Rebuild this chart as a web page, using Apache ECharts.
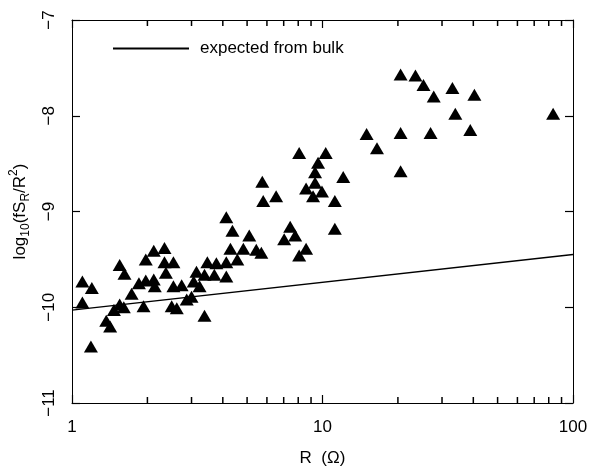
<!DOCTYPE html>
<html>
<head>
<meta charset="utf-8">
<script src="https://cdn.jsdelivr.net/npm/echarts@6/dist/echarts.min.js"></script>
<style>
  html, body { margin: 0; padding: 0; background: #fff; }
  #main { width: 593px; height: 472px; }
</style>
</head>
<body>
<div id="main"></div>
<script>
// measured points: R (ohm) and log10(fS_R/R^2)
var rValues = [
  1.10, 1.20, 1.10, 1.19, 1.37, 1.42, 1.47, 1.55, 1.61, 1.55, 1.62, 1.73, 1.85,
  1.97, 1.97, 2.12, 2.34, 2.12, 2.14, 2.34, 2.54, 2.37, 1.93, 2.50, 2.62, 2.54,
  2.74, 2.87, 3.06, 3.23, 3.00, 3.38, 3.14, 3.38, 3.47,
  3.77, 3.70, 4.13, 4.13, 4.13, 4.37, 5.10, 4.29, 4.83, 5.44, 5.70, 4.57,
  5.80, 5.75, 6.53,
  7.43, 7.78, 7.03, 8.60, 8.07, 11.2, 8.07, 10.3, 9.60, 9.34, 9.34, 8.60, 9.95,
  9.17, 11.2, 12.1,
  15.0, 16.5, 20.5, 20.5, 27.0, 38.9, 33.9, 20.5, 23.5, 25.3, 27.8, 33.0, 40.4, 83.3
];
var logValues = [
  -9.73, -9.80, -9.95, -10.41, -10.14, -10.20, -10.03, -9.97, -10.00, -9.56, -9.65, -9.86, -9.75,
  -9.50, -9.72, -9.41, -9.38, -9.71, -9.78, -9.53, -9.53, -9.64, -9.99, -9.99, -10.01, -9.78,
  -9.77, -9.92, -9.73, -9.78, -9.89, -10.09, -9.63, -9.66, -9.53,
  -9.54, -9.66, -9.68, -9.53, -9.06, -9.20, -9.25, -9.39, -9.39, -9.40, -9.43, -9.50,
  -8.89, -8.69, -8.84,
  -9.16, -9.25, -9.29, -9.39, -9.46, -9.18, -8.39, -8.39, -8.49, -8.59, -8.70, -8.76, -8.79,
  -8.84, -8.89, -8.64,
  -8.19, -8.34, -8.58, -8.18, -8.18, -8.15, -7.98, -7.57, -7.58, -7.68, -7.80, -7.71, -7.78, -7.98
];
// expected from bulk
var bulkR = [1, 100];
var bulkLog = [-10.03, -9.45];
// log axis minor tick positions
var minorTicks = [2, 3, 4, 5, 6, 7, 8, 9, 20, 30, 40, 50, 60, 70, 80, 90];

var FONT = 'Liberation Sans';
var myChart = echarts.init(document.getElementById('main'));

var pts = rValues.map(function (r, i) { return [r, logValues[i]]; });
var line = bulkR.map(function (r, i) { return [r, bulkLog[i]]; });

function minus(v) { return String(v).replace('-', '\u2212'); }

// minor ticks of the log axis, as thin rect symbols sitting on the frame
function tickSeries(yv, dir) {
  return {
    type: 'scatter',
    clip: false,
    data: minorTicks.map(function (v) { return [v, yv]; }),
    symbol: 'rect',
    symbolSize: [1.5, 6],
    symbolOffset: [0, dir * 3],
    itemStyle: { color: '#000', opacity: 1 }
  };
}

var axisLine = { show: true, onZero: false, lineStyle: { color: '#000', width: 1 } };
var majorTick = { show: true, inside: true, length: 8, lineStyle: { color: '#000', width: 1.2 } };

var option = {
  backgroundColor: '#fff',
  animation: false,
  grid: { left: 70, right: 20, top: 20, bottom: 68 },
  legend: {
    data: [{ name: 'expected from bulk', icon: 'rect' }],
    left: 108, top: 35,
    itemWidth: 76, itemHeight: 2,
    textStyle: { fontFamily: FONT, fontSize: 17, color: '#000', padding: [0, 0, 0, 6] }
  },
  xAxis: [{
    type: 'log', logBase: 10, min: 1, max: 100,
    name: 'R  (\u03a9)', nameLocation: 'middle', nameGap: 47,
    nameTextStyle: { fontFamily: FONT, fontSize: 17, color: '#000' },
    axisLine: axisLine,
    axisTick: majorTick,
    axisLabel: { fontFamily: FONT, fontSize: 17, color: '#000', margin: 16 },
    splitLine: { show: false }
  }, {
    type: 'log', logBase: 10, min: 1, max: 100, position: 'top',
    axisLine: axisLine,
    axisTick: majorTick,
    axisLabel: { show: false },
    splitLine: { show: false }
  }],
  yAxis: [{
    type: 'value', min: -11, max: -7, interval: 1,
    name: '{t|log}{s|10}{t|(fS}{s|R}{t|/R}{p|2}{t|)}',
    nameLocation: 'middle', nameGap: 40,
    nameTextStyle: {
      rich: {
        t: { fontFamily: FONT, fontSize: 17, color: '#000', lineHeight: 24, verticalAlign: 'middle' },
        s: { fontFamily: FONT, fontSize: 12, color: '#000', lineHeight: 24, verticalAlign: 'bottom' },
        p: { fontFamily: FONT, fontSize: 12, color: '#000', lineHeight: 24, verticalAlign: 'top' }
      }
    },
    axisLine: axisLine,
    axisTick: majorTick,
    axisLabel: { fontFamily: FONT, fontSize: 17, color: '#000', rotate: 90, margin: 14, formatter: minus },
    splitLine: { show: false }
  }, {
    type: 'value', min: -11, max: -7, interval: 1, position: 'right',
    axisLine: axisLine,
    axisTick: majorTick,
    axisLabel: { show: false },
    splitLine: { show: false }
  }],
  series: [{
    name: 'expected from bulk',
    type: 'line',
    data: line,
    showSymbol: false,
    symbol: 'none',
    lineStyle: { color: '#000', width: 1.5 },
    itemStyle: { color: '#000' }
  }, {
    name: 'data',
    type: 'scatter',
    data: pts,
    symbol: 'triangle',
    symbolSize: [14, 12],
    itemStyle: { color: '#000', opacity: 1 }
  },
  tickSeries(-11, -1),
  tickSeries(-7, 1)]
};
myChart.setOption(option);
</script>
</body>
</html>
